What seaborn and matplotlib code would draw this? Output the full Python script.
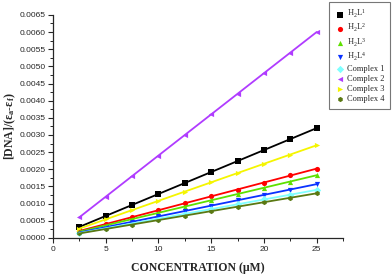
import numpy as np
import pandas as pd
import matplotlib
matplotlib.use('Agg')
import matplotlib.pyplot as plt
import seaborn as sns
from matplotlib.ticker import MultipleLocator

# concentration (uM)
conc = [2.5, 5, 7.5, 10, 12.5, 15, 17.5, 20, 22.5, 25]

# [DNA]/(ea-ef) values
h2l1 = [0.00032, 0.00064, 0.00096, 0.00128, 0.00160, 0.00192, 0.00224, 0.00256, 0.00288, 0.00320]
h2l2 = [0.00020, 0.00040, 0.00061, 0.00081, 0.00101, 0.00121, 0.00141, 0.00161, 0.00182, 0.00202]
h2l3 = [0.00018, 0.00037, 0.00055, 0.00073, 0.00091, 0.00110, 0.00128, 0.00146, 0.00164, 0.00183]
h2l4 = [0.00016, 0.00031, 0.00047, 0.00063, 0.00078, 0.00094, 0.00110, 0.00125, 0.00141, 0.00157]
complex1 = [0.00014, 0.00028, 0.00042, 0.00056, 0.00070, 0.00084, 0.00098, 0.00112, 0.00126, 0.00140]
complex2 = [0.00060, 0.00120, 0.00180, 0.00240, 0.00300, 0.00360, 0.00420, 0.00480, 0.00540, 0.00600]
complex3 = [0.00027, 0.00054, 0.00081, 0.00108, 0.00135, 0.00162, 0.00189, 0.00216, 0.00243, 0.00270]
complex4 = [0.00013, 0.00026, 0.00039, 0.00052, 0.00065, 0.00078, 0.00091, 0.00104, 0.00117, 0.00130]

labels = [r'H$_2$L$^1$', r'H$_2$L$^2$', r'H$_2$L$^3$', r'H$_2$L$^4$',
          'Complex 1', 'Complex 2', 'Complex 3', 'Complex 4']
series = [h2l1, h2l2, h2l3, h2l4, complex1, complex2, complex3, complex4]
colors = ['#000000', '#FF0000', '#5EE000', '#0A32FF',
          '#7FFFFF', '#B03CFF', '#F5F500', '#5A7812']
markers = ['s', 'o', '^', 'v', 'D', '<', '>', 'h']

sns.set_style('ticks')
plt.rcParams['font.family'] = ['Liberation Sans', 'DejaVu Sans']
plt.rcParams['mathtext.fontset'] = 'custom'
plt.rcParams['mathtext.rm'] = 'Liberation Serif'
plt.rcParams['mathtext.it'] = 'Liberation Serif:italic'
plt.rcParams['mathtext.bf'] = 'Liberation Serif:bold'

fig = plt.figure(figsize=(3.92, 2.76), dpi=100)
ax = fig.add_axes([0.135, 0.138, 0.74, 0.808])

for vals, lab, col, mk in zip(series, labels, colors, markers):
    df = pd.DataFrame({'conc': conc, 'val': vals})
    sns.regplot(x='conc', y='val', data=df, ax=ax, ci=None, truncate=True,
                color=col, marker=mk, label=lab,
                scatter_kws={'s': 14, 'linewidths': 0, 'alpha': 1},
                line_kws={'lw': 1.3})

ax.set_xlim(0, 27.5)
ax.set_ylim(0, 0.0065)
ax.xaxis.set_major_locator(MultipleLocator(5))
ax.xaxis.set_minor_locator(MultipleLocator(2.5))
ax.yaxis.set_major_locator(MultipleLocator(0.0005))
ax.yaxis.set_minor_locator(MultipleLocator(0.00025))
ax.yaxis.set_major_formatter(plt.FuncFormatter(lambda v, p: f'{v:.4f}'))
ax.tick_params(which='major', direction='out', length=3.5, width=0.8, labelsize=6, pad=2)
ax.tick_params(which='minor', direction='out', length=2, width=0.7)
sns.despine(ax=ax)
for s in ['left', 'bottom']:
    ax.spines[s].set_linewidth(0.9)

ax.set_xlabel('CONCENTRATION (\u03bcM)', family='Liberation Serif',
              fontweight='bold', fontsize=8.5, labelpad=7)
ax.set_ylabel(r'[DNA]/($\mathbf{\varepsilon_a}$-$\mathbf{\varepsilon_f}$)',
              family='Liberation Serif', fontweight='bold', fontsize=8.5)
ax.yaxis.set_label_coords(-0.12, 0.5)

leg = fig.legend(loc='upper right', bbox_to_anchor=(0.995, 0.993), frameon=True,
                 fancybox=False, edgecolor='#555555', handletextpad=0.2,
                 prop={'family': 'Liberation Serif', 'size': 6}, borderaxespad=0,
                 labelspacing=0.25, borderpad=0.7, handlelength=1.2, markerscale=1.0)
leg.get_frame().set_linewidth(0.8)

fig.savefig('out.png', dpi=100)
